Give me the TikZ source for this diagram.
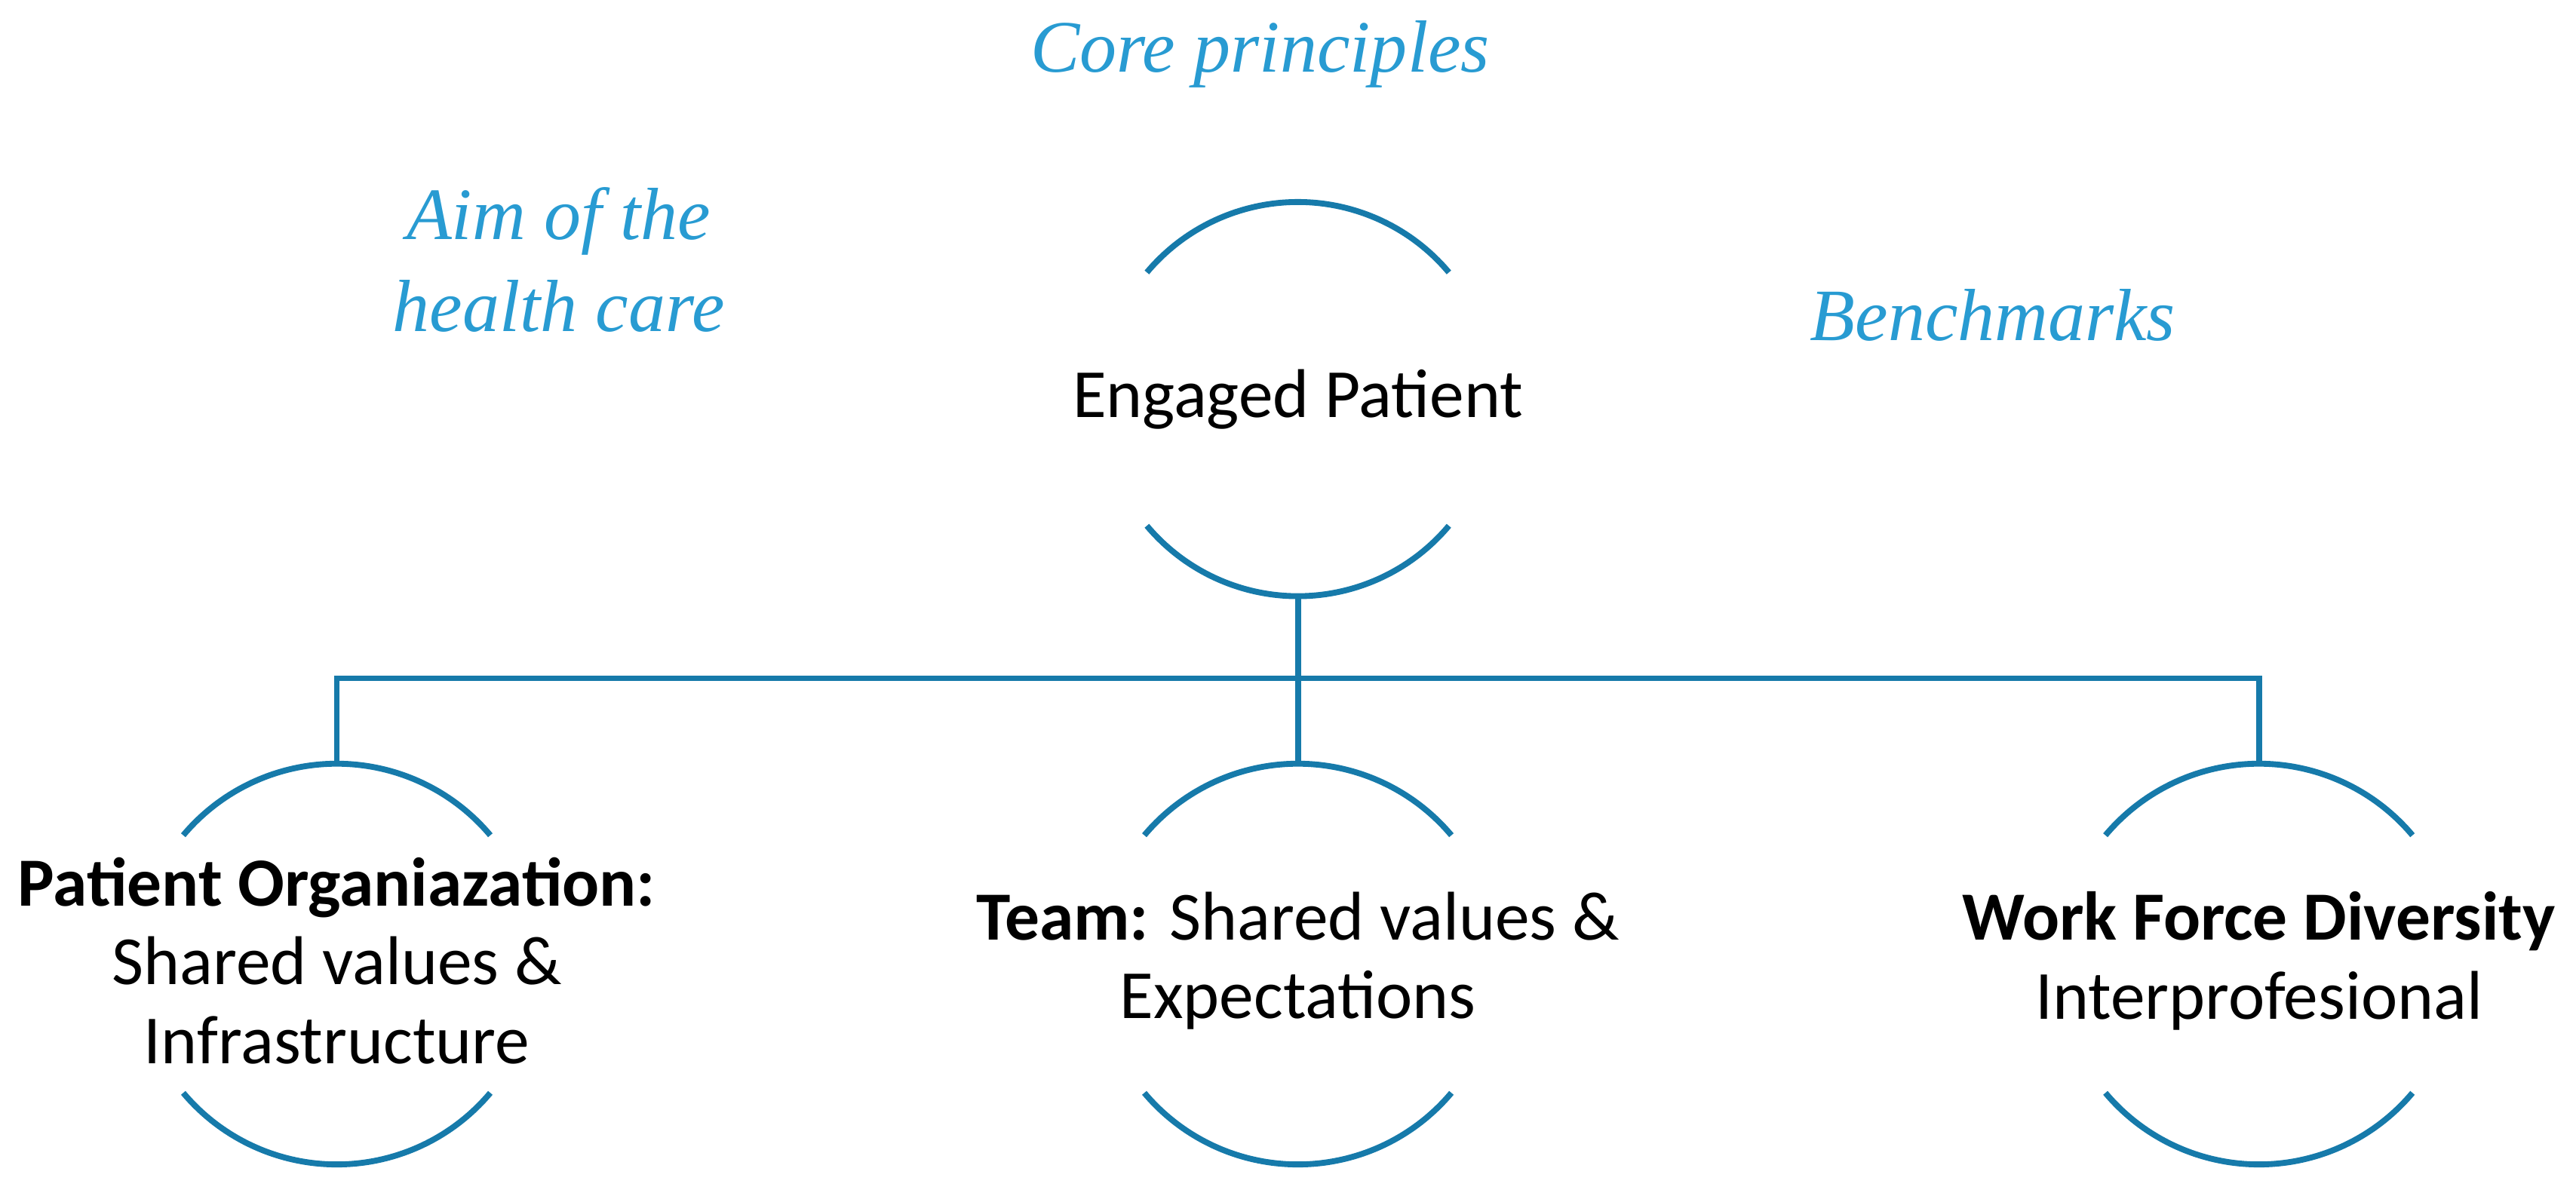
\documentclass[tikz,border=0pt]{standalone}
\usepackage{fontspec}
\setmainfont{Carlito}
\newfontfamily\ser{Liberation Serif}
\definecolor{ln}{RGB}{22,122,170}
\definecolor{tx}{RGB}{40,155,210}
\begin{document}
\begin{tikzpicture}[x=1pt,y=-1pt,
 arcs/.style={draw=ln,line width=3.6pt},
 lab/.style={font=\fontsize{42}{48}\selectfont,align=center,inner sep=0},
 ital/.style={font=\ser\itshape\fontsize{45}{56}\selectfont,text=tx,align=center,inner sep=0}]
\useasboundingbox (0,0) rectangle (1568,730);
\foreach \n/\x/\y/\r in {top/790/243/120, l/205/587/122, m/790/587/122, r/1375/587/122}{
  \coordinate (\n) at (\x,\y);
  \draw[arcs] (\n) ++(-40:\r pt) arc[start angle=-40,end angle=-140,radius=\r pt];
  \draw[arcs] (\n) ++(40:\r pt) arc[start angle=40,end angle=140,radius=\r pt];
  \coordinate (\n t) at (\x,\y-\r);
  \coordinate (\n b) at (\x,\y+\r);
}
\coordinate (j) at (790,413);
\draw[arcs] (topb) -- (mt);
\draw[arcs] (lt) |- (j) -| (rt);
\node[lab] at (top) {Engaged Patient};
\node[lab] at (205,585) {\textbf{Patient Organiazation:}\\Shared values \&\\Infrastructure};
\node[lab] at (790,585) {\textbf{Team:} Shared values \&\\Expectations};
\node[lab] at (1375,585) {\textbf{Work Force Diversity}\\Interprofesional};
\node[ital] (cp) at (767,33) {Core principles};
\node[ital] (aim) at (340,158) {Aim of the\\health care};
\node[ital] (bm) at (1213,192) {Benchmarks};
\end{tikzpicture}
\end{document}
